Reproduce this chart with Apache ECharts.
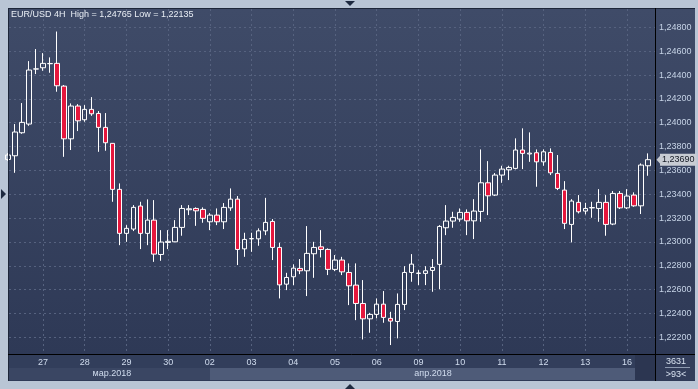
<!DOCTYPE html>
<html><head><meta charset="utf-8">
<script src="https://cdn.jsdelivr.net/npm/echarts@6/dist/echarts.min.js"></script>
<style>html,body{margin:0;padding:0;background:#b9c5d5;}#c{width:698px;height:389px;}</style>
</head><body><div id="c"></div>
<script>
// ---- data (EUR/USD 4H) ----
const opens = [1.23692,1.23723,1.23916,1.23989,1.24450,1.24461,1.24495,1.24498,1.24307,1.23865,
1.24140,1.24025,1.24112,1.24078,1.23961,1.23827,1.23441,1.23072,1.23108,1.23301,
1.23072,1.23183,1.22895,1.22996,1.23001,1.23122,1.23270,1.23281,1.23273,1.23169,
1.23225,1.23169,1.23286,1.23359,1.22942,1.23026,1.23026,1.23093,1.23172,1.22954,
1.22646,1.22708,1.22778,1.22758,1.22901,1.22959,1.22937,1.22770,1.22848,1.22744,
1.22638,1.22484,1.22355,1.22392,1.22478,1.22359,1.22333,1.22476,1.22744,1.22736,
1.22736,1.22761,1.22812,1.23119,1.23175,1.23192,1.23248,1.23177,1.23256,1.23496,
1.23393,1.23561,1.23605,1.23617,1.23771,1.23738,1.23748,1.23672,1.23751,1.23575,
1.23435,1.23147,1.23332,1.23259,1.23286,1.23281,1.23332,1.23150,1.23407,1.23286,
1.23393,1.23303,1.23639];
const closes = [1.23729,1.23922,1.24003,1.24442,1.24452,1.24498,1.24497,1.24310,1.23865,1.24140,
1.24016,1.24112,1.24075,1.23961,1.23832,1.23441,1.23072,1.23114,1.23290,1.23072,
1.23183,1.22898,1.22999,1.23005,1.23122,1.23281,1.23278,1.23261,1.23198,1.23225,
1.23169,1.23290,1.23359,1.22937,1.23021,1.23028,1.23093,1.23164,1.22954,1.22640,
1.22702,1.22780,1.22758,1.22904,1.22954,1.22937,1.22770,1.22848,1.22749,1.22632,
1.22484,1.22355,1.22392,1.22478,1.22367,1.22336,1.22476,1.22744,1.22814,1.22739,
1.22758,1.22786,1.23130,1.23175,1.23206,1.23248,1.23177,1.23259,1.23496,1.23387,
1.23561,1.23611,1.23625,1.23771,1.23743,1.23745,1.23672,1.23756,1.23580,1.23449,
1.23156,1.23343,1.23253,1.23281,1.23288,1.23332,1.23147,1.23407,1.23286,1.23385,
1.23303,1.23645,1.23690];
const lows = [1.23680,1.23580,1.23907,1.23974,1.24408,1.24436,1.24419,1.24260,1.23714,1.23771,
1.23930,1.24008,1.24058,1.23756,1.23765,1.23337,1.22973,1.23001,1.23091,1.22940,
1.22973,1.22833,1.22842,1.22940,1.22999,1.23052,1.23225,1.23135,1.23161,1.23099,
1.23141,1.23108,1.23261,1.22806,1.22875,1.22917,1.22968,1.23057,1.22848,1.22526,
1.22596,1.22638,1.22730,1.22546,1.22699,1.22870,1.22722,1.22755,1.22722,1.22470,
1.22344,1.22182,1.22238,1.22359,1.22322,1.22135,1.22191,1.22428,1.22666,1.22638,
1.22638,1.22582,1.22604,1.23057,1.23119,1.23169,1.23057,1.23024,1.23169,1.23225,
1.23385,1.23496,1.23519,1.23609,1.23611,1.23672,1.23463,1.23639,1.23561,1.23435,
1.23108,1.22996,1.23239,1.23231,1.23203,1.23169,1.23052,1.23141,1.23276,1.23276,
1.23295,1.23234,1.23555];
const highs = [1.23745,1.23989,1.24165,1.24517,1.24618,1.24584,1.24548,1.24765,1.24316,1.24162,
1.24156,1.24148,1.24215,1.24098,1.24081,1.23829,1.23491,1.23141,1.23309,1.23337,
1.23357,1.23351,1.23099,1.23099,1.23183,1.23309,1.23309,1.23290,1.23290,1.23242,
1.23281,1.23326,1.23449,1.23385,1.23077,1.23077,1.23114,1.23370,1.23192,1.22993,
1.22741,1.22812,1.22856,1.23133,1.23001,1.23099,1.22946,1.22890,1.22875,1.22820,
1.22820,1.22680,1.22405,1.22526,1.22588,1.22414,1.22568,1.22797,1.22898,1.22764,
1.22797,1.22856,1.23141,1.23309,1.23253,1.23281,1.23273,1.23359,1.23776,1.23678,
1.23578,1.23639,1.23639,1.23869,1.23953,1.23919,1.23776,1.23776,1.23785,1.23729,
1.23510,1.23359,1.23393,1.23328,1.23337,1.23443,1.23393,1.23427,1.23427,1.23443,
1.23416,1.23659,1.23743];
const dayLabels = ['27','28','29','30','02','03','04','05','06','09','10','11','12','13','16'];
const dayFirstBar = [5,11,17,23,29,35,41,47,53,59,65,71,77,83,89];
const monthLabels = ['мар.2018','апр.2018'];
const monthLabelBar = [14.9, 61.1];
const yTicks = [1.222,1.224,1.226,1.228,1.230,1.232,1.234,1.236,1.238,1.240,1.242,1.244,1.246,1.248];
const titleText = 'EUR/USD 4H  High = 1,24765 Low = 1,22135';
const lastPrice = 1.23690;
const barsTotal = '3631';
const barsShown = '>93<';

const fmt = v => v.toFixed(5).replace('.', ',');
const candleData = opens.map((o, i) => [i, o, closes[i], lows[i], highs[i]]);
const FONT = 'Liberation Sans';
const xMin = 0.11, xMax = 93.03;

const chart = echarts.init(document.getElementById('c'));
chart.setOption({
  backgroundColor: '#b9c5d5',
  animation: false,
  textStyle: {fontFamily: FONT},
  graphic: [
    {type:'rect', z:-100, silent:true, shape:{x:8,y:8,width:687,height:373}, style:{fill:'#2f3a57'}},
    {type:'rect', z:-99, silent:true, shape:{x:9,y:9,width:686,height:345},
      style:{fill:new echarts.graphic.LinearGradient(0,0,0,1,[{offset:0,color:'#3f4b68'},{offset:1,color:'#2e3956'}])}},
    {type:'rect', z:-99, silent:true, shape:{x:9,y:355,width:646,height:13}, style:{fill:'#323e5b'}},
    {type:'rect', z:-99, silent:true, shape:{x:9,y:368,width:201,height:12}, style:{fill:'#3a4663'}},
    {type:'rect', z:-99, silent:true, shape:{x:210,y:368,width:425,height:12}, style:{fill:'#4e5b78'}},
    {type:'rect', z:-98, silent:true, shape:{x:635,y:355,width:20,height:25}, style:{fill:'#2c3651'}},
    {type:'rect', z:-99, silent:true, shape:{x:656,y:355,width:39,height:25}, style:{fill:'#323d5a'}},
    {type:'line', z:100, silent:true, shape:{x1:8,y1:8.5,x2:695,y2:8.5}, style:{stroke:'#1d2639',lineWidth:1}},
    {type:'line', z:100, silent:true, shape:{x1:8.5,y1:8,x2:8.5,y2:381}, style:{stroke:'#1d2639',lineWidth:1}},
    {type:'line', z:100, silent:true, shape:{x1:655.5,y1:8,x2:655.5,y2:381}, style:{stroke:'#000',lineWidth:1}},
    {type:'line', z:100, silent:true, shape:{x1:8,y1:354.5,x2:695,y2:354.5}, style:{stroke:'#000',lineWidth:1}},
    {type:'line', z:100, silent:true, shape:{x1:665,y1:367.5,x2:690,y2:367.5}, style:{stroke:'#8d9ab0',lineWidth:1}},
    {type:'polygon', z:100, silent:true, shape:{points:[[345,1],[355,1],[350,6]]}, style:{fill:'#1e2a40'}},
    {type:'polygon', z:100, silent:true, shape:{points:[[345,389],[355,389],[350,384]]}, style:{fill:'#1e2a40'}},
    {type:'polygon', z:100, silent:true, shape:{points:[[1,189],[1,199],[6,194]]}, style:{fill:'#1e2a40'}},
    {type:'text', z:100, silent:true, x:11, y:10, style:{text:titleText, fill:'#e8edf4', font:'9px "Liberation Sans"'}},
    {type:'text', z:100, silent:true, x:676, y:357, style:{text:barsTotal, fill:'#d8e2f0', font:'9px "Liberation Sans"', align:'center'}},
    {type:'text', z:100, silent:true, x:676, y:370, style:{text:barsShown, fill:'#d8e2f0', font:'9px "Liberation Sans"', align:'center'}}
  ],
  grid: {left:9, right:43, top:9, bottom:35, containLabel:false},
  xAxis: [{
    type:'value', min:xMin, max:xMax, position:'bottom',
    axisLine:{show:false},
    axisTick:{show:false, customValues:dayFirstBar},
    axisLabel:{customValues:dayFirstBar, formatter:v => dayLabels[dayFirstBar.indexOf(v)],
      color:'#d0dcee', fontSize:9, fontFamily:FONT, margin:4},
    splitLine:{show:true, lineStyle:{color:'#56627f', type:[2,3], width:1}}
  },{
    type:'value', min:xMin, max:xMax, position:'bottom', offset:12,
    axisLine:{show:false},
    axisTick:{show:false, customValues:monthLabelBar},
    axisLabel:{customValues:monthLabelBar, formatter:v => monthLabels[monthLabelBar.indexOf(v)],
      color:'#d0dcee', fontSize:9, fontFamily:FONT, margin:3},
    splitLine:{show:false}
  }],
  yAxis: {
    type:'value', position:'right', min:1.2206, max:1.24954,
    axisLine:{show:false},
    axisTick:{show:false, customValues:yTicks},
    axisLabel:{customValues:yTicks, formatter:fmt, color:'#c6d3e6', fontSize:9, fontFamily:FONT, margin:4},
    splitLine:{show:true, lineStyle:{color:'#56627f', type:[2,3], width:1}}
  },
  series: [{
    type:'candlestick',
    data:candleData,
    encode:{x:0, y:[1,2,3,4]},
    barWidth:5,
    itemStyle:{color:'rgba(0,0,0,0)', color0:'#e5173d', borderColor:'#ffffff', borderColor0:'#ffffff', borderWidth:1},
    markLine:{
      silent:true, symbol:'none', animation:false,
      lineStyle:{color:'rgba(0,0,0,0)', width:0},
      label:{show:true, position:'end', distance:5, formatter:() => fmt(lastPrice), color:'#151a24',
        backgroundColor:'#c8ccd3', padding:[2,2,1,2], fontSize:9, fontFamily:FONT},
      emphasis:{disabled:true},
      data:[[{coord:[xMin, lastPrice]}, {coord:[xMax, lastPrice]}]]
    },
    markPoint:{
      silent:true, animation:false,
      symbol:'triangle', symbolSize:[11,5], symbolRotate:90, symbolOffset:[4,0],
      itemStyle:{color:'#c8ccd3'}, label:{show:false},
      data:[{coord:[xMax, lastPrice]}]
    }
  }]
});
</script>
</body></html>
